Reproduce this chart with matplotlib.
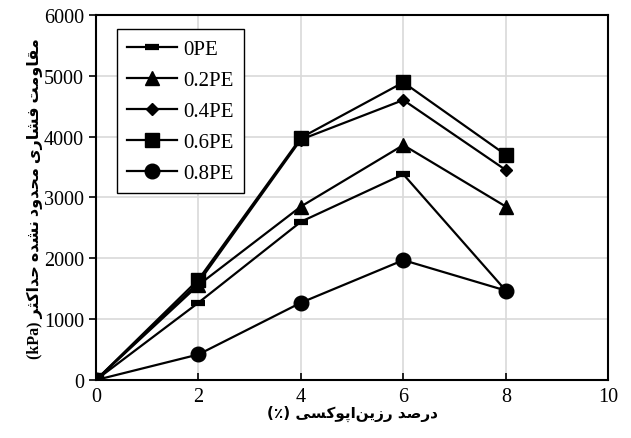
import matplotlib
matplotlib.use('Agg')
import matplotlib.pyplot as plt

# data
epoxy = [0, 2, 4, 6, 8]
series_names = ['0PE', '0.2PE', '0.4PE', '0.6PE', '0.8PE']
pe_0 = [0, 1270, 2600, 3380, 1470]
pe_02 = [0, 1560, 2850, 3860, 2850]
pe_04 = [0, 1600, 3950, 4600, 3450]
pe_06 = [0, 1650, 3980, 4890, 3700]
pe_08 = [0, 420, 1270, 1970, 1470]

x_ticks = [0, 2, 4, 6, 8, 10]
y_ticks = [0, 1000, 2000, 3000, 4000, 5000, 6000]

xlabel_fa = 'درصد رزین\u200cاپوکسی'
ylabel_fa = 'مقاومت فشاری محدود نشده حداکثر'

# contextual forms: isolated, final, initial, medial
FORMS = {
    'ا': (0xFE8D, 0xFE8E, None, None),
    'پ': (0xFB56, 0xFB57, 0xFB58, 0xFB59),
    'ت': (0xFE95, 0xFE96, 0xFE97, 0xFE98),
    'ث': (0xFE99, 0xFE9A, 0xFE9B, 0xFE9C),
    'ح': (0xFEA1, 0xFEA2, 0xFEA3, 0xFEA4),
    'د': (0xFEA9, 0xFEAA, None, None),
    'ر': (0xFEAD, 0xFEAE, None, None),
    'ز': (0xFEAF, 0xFEB0, None, None),
    'س': (0xFEB1, 0xFEB2, 0xFEB3, 0xFEB4),
    'ش': (0xFEB5, 0xFEB6, 0xFEB7, 0xFEB8),
    'ص': (0xFEB9, 0xFEBA, 0xFEBB, 0xFEBC),
    'ف': (0xFED1, 0xFED2, 0xFED3, 0xFED4),
    'ق': (0xFED5, 0xFED6, 0xFED7, 0xFED8),
    'ک': (0xFB8E, 0xFB8F, 0xFB90, 0xFB91),
    'م': (0xFEE1, 0xFEE2, 0xFEE3, 0xFEE4),
    'ن': (0xFEE5, 0xFEE6, 0xFEE7, 0xFEE8),
    'ه': (0xFEE9, 0xFEEA, 0xFEEB, 0xFEEC),
    'و': (0xFEED, 0xFEEE, None, None),
    'ی': (0xFBFC, 0xFBFD, 0xFBFE, 0xFBFF),
}


def shape_fa(text):
    """Join Persian letters by hand and return them in visual order."""
    out = []
    chars = list(text)
    for i, c in enumerate(chars):
        if c not in FORMS:
            if c != '\u200c':
                out.append(c)
            continue
        prev = chars[i - 1] if i > 0 else None
        nxt = chars[i + 1] if i + 1 < len(chars) else None
        joins_prev = prev in FORMS and FORMS[prev][2] is not None
        joins_next = nxt in FORMS and FORMS[c][2] is not None
        iso, fin, ini, med = FORMS[c]
        if joins_prev and joins_next:
            form = med
        elif joins_prev:
            form = fin
        elif joins_next:
            form = ini
        else:
            form = iso
        out.append(chr(form))
    return ''.join(reversed(out))


plt.rcParams['font.family'] = ['Liberation Serif', 'DejaVu Sans']

fig = plt.figure(figsize=(6.31, 4.39), dpi=100)
ax = fig.add_axes([0.152, 0.132, 0.812, 0.832])

markers = [dict(marker='_', markersize=10, markeredgewidth=4.5),
           dict(marker='^', markersize=9.5),
           dict(marker='D', markersize=6.5),
           dict(marker='s', markersize=10),
           dict(marker='o', markersize=10.5)]
all_series = [pe_0, pe_02, pe_04, pe_06, pe_08]
for name, ys, mk in zip(series_names, all_series, markers):
    ax.plot(epoxy, ys, color='black', lw=1.6, label=name, **mk)

ax.set_xlim(0, 10)
ax.set_ylim(0, 6000)
ax.set_xticks(x_ticks)
ax.set_yticks(y_ticks)
ax.grid(True, color='#d9d9d9', lw=1.2)
ax.set_axisbelow(True)
ax.tick_params(axis='x', direction='in', length=5, width=1.2, labelsize=14.5, pad=5)
ax.tick_params(axis='y', direction='out', length=5, width=1.2, labelsize=14.5)
for sp in ax.spines.values():
    sp.set_linewidth(1.5)
    sp.set_color('black')

ax.set_xlabel('(٪) ' + shape_fa(xlabel_fa), fontsize=11, fontweight='bold',
              family=['DejaVu Sans'], labelpad=-1)
ax.set_ylabel('(kPa) ' + shape_fa(ylabel_fa), fontsize=11.5, fontweight='bold',
              labelpad=1)

leg = ax.legend(loc='upper left', bbox_to_anchor=(0.02, 0.99), fontsize=15,
                frameon=True, fancybox=False, edgecolor='black', framealpha=1,
                handlelength=2.4, handletextpad=0.3, labelspacing=0.55,
                borderpad=0.5)
leg.get_frame().set_linewidth(1.0)

fig.savefig('out.png', dpi=100)
